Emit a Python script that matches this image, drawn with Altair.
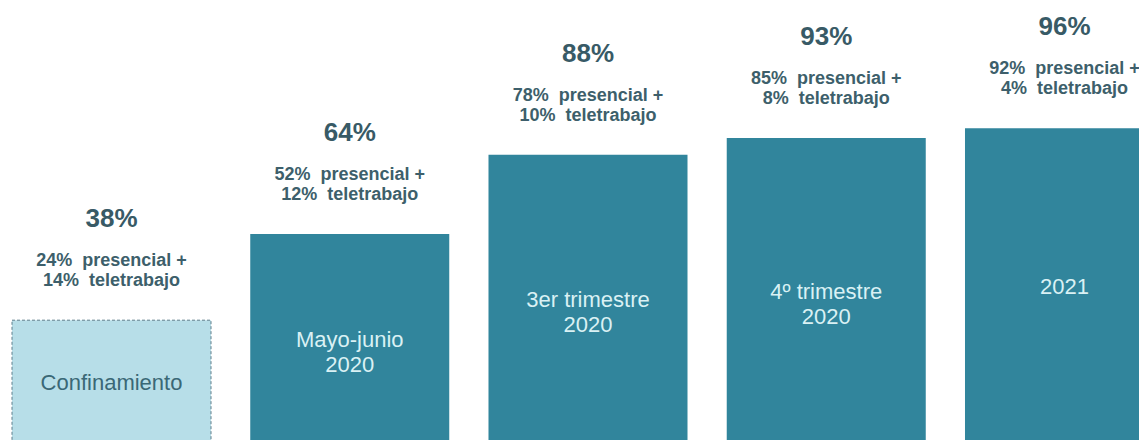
import altair as alt
import pandas as pd

periods = ["Confinamiento", "Mayo-junio 2020", "3er trimestre 2020", "4º trimestre 2020", "2021"]
bar_labels = ["Confinamiento", "Mayo-junio\n2020", "3er trimestre\n2020", "4º trimestre\n2020", "2021"]
totals = [38, 64, 88, 93, 96]
presencial = [24, 52, 78, 85, 92]
teletrabajo = [14, 12, 10, 8, 4]

NB = "\u00a0"
df = pd.DataFrame({
    "period": periods,
    "bar_label": bar_labels,
    "total": totals,
    "presencial": presencial,
    "teletrabajo": teletrabajo,
})
df["total_label"] = [f"{v}%" for v in totals]
df["detail_label"] = [f"{p}%{NB}{NB}presencial{NB}+\n{t}%{NB}{NB}teletrabajo" for p, t in zip(presencial, teletrabajo)]

x_enc = alt.X("period:N", sort=periods, axis=None,
              scale=alt.Scale(range=[4, 1156], paddingInner=0.1647, paddingOuter=0))
y_scale = alt.Scale(domain=[0, 132.3], range=[438, 0], nice=False, zero=True)

base = alt.Chart(df).encode(x=x_enc)

light = base.transform_filter(alt.datum.period == "Confinamiento").mark_bar(
    clip=True, color="#B7DEE8", stroke="#5F7F8C", strokeWidth=1, strokeDash=[3, 2]
).encode(y=alt.Y("total:Q", scale=y_scale, axis=None))

dark = base.transform_filter(alt.datum.period != "Confinamiento").mark_bar(
    clip=True, color="#31859C"
).encode(y=alt.Y("total:Q", scale=y_scale, axis=None))

big = base.mark_text(
    font="Liberation Sans", fontSize=26, fontWeight="bold", color="#385A66",
    baseline="alphabetic", dy=-93
).encode(y=alt.Y("total:Q", scale=y_scale), text="total_label:N")

detail = base.mark_text(
    font="Liberation Sans", fontSize=18, fontWeight="bold", color="#3D5F6B",
    baseline="alphabetic", dy=-54, lineBreak="\n", lineHeight=20
).encode(y=alt.Y("total:Q", scale=y_scale), text="detail_label:N")

inside = base.transform_calculate(half="datum.total / 2").mark_text(
    font="Liberation Sans", fontSize=22, baseline="middle", lineBreak="\n", lineHeight=25
).encode(
    y=alt.Y("half:Q", scale=y_scale),
    text="bar_label:N",
    color=alt.condition(alt.datum.period == "Confinamiento", alt.value("#3A6876"), alt.value("#DAF1F4")),
)

chart = alt.layer(light, dark, big, detail, inside).properties(
    width=1131, height=432,
    autosize=alt.AutoSizeParams(type="none"),
    padding=0,
    background="white",
).configure_view(stroke=None)

chart.save("out.html", embed_options={"renderer": "svg", "actions": False})
